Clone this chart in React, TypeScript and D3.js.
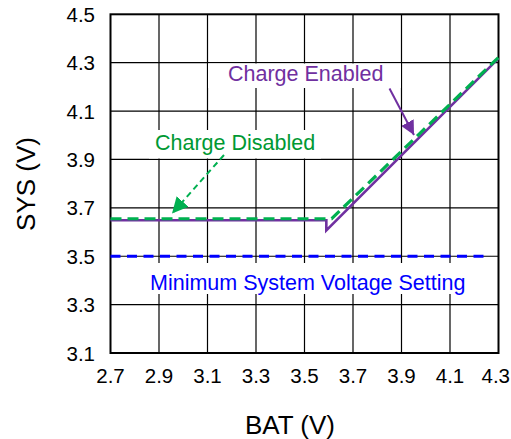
import React from 'react';
import * as d3 from 'd3';

// BAT (V) vs SYS (V)
const xTicks = [2.7, 2.9, 3.1, 3.3, 3.5, 3.7, 3.9, 4.1, 4.3];
const yTicks = [3.1, 3.3, 3.5, 3.7, 3.9, 4.1, 4.3, 4.5];

const chargeEnabledBat = [2.7, 3.59, 3.59, 4.3];
const chargeEnabledSys = [3.649, 3.649, 3.607, 4.318];

const chargeDisabledBat = [2.7, 3.612, 4.3];
const chargeDisabledSys = [3.655, 3.655, 4.322];

const minSysBat = [2.7, 4.265];
const minSysSys = [3.5, 3.5];

const W = 511, H = 439;
const margin = { top: 14.3, right: 12.5, bottom: 86, left: 110.5 };

const font = "Arial, 'Liberation Sans', sans-serif";
const purple = '#7030A0';
const green = '#00B050';
const blue = '#0000FF';

export default function App() {
  const x = d3.scaleLinear().domain([2.7, 4.3]).range([margin.left, W - margin.right]);
  const y = d3.scaleLinear().domain([3.1, 4.5]).range([H - margin.bottom, margin.top]);

  const line = d3.line<[number, number]>().x(d => x(d[0])).y(d => y(d[1]));
  const pts = (xs: number[], ys: number[]) => xs.map((v, i) => [v, ys[i]] as [number, number]);

  const x0 = x(2.7), x1 = x(4.3), y0 = y(3.1), y1 = y(4.5);

  return (
    <svg width={W} height={H} style={{ position: 'absolute', left: 0, top: 0 }}>
      <defs>
        <marker id="arrP" viewBox="0 0 10 10" refX="10" refY="5" markerWidth="7" markerHeight="7" orient="auto" markerUnits="strokeWidth">
          <path d="M0,0 L10,5 L0,10 Z" fill={purple} />
        </marker>
        <marker id="arrG" viewBox="0 0 10 10" refX="10" refY="5" markerWidth="8" markerHeight="8" orient="auto" markerUnits="strokeWidth">
          <path d="M0,0 L10,5 L0,10 Z" fill={green} />
        </marker>
      </defs>
      <rect width={W} height={H} fill="#fff" />

      {/* grid */}
      {xTicks.slice(1, -1).map(t => (
        <line key={'gx' + t} x1={x(t)} x2={x(t)} y1={y1} y2={y0} stroke="#000" strokeWidth={1.2} />
      ))}
      {yTicks.slice(1, -1).map(t => (
        <line key={'gy' + t} x1={x0} x2={x1} y1={y(t)} y2={y(t)} stroke="#000" strokeWidth={1.2} />
      ))}

      {/* label backgrounds */}
      <rect x={208} y={63.5} width={193} height={24.5} fill="#fff" />
      <rect x={149} y={130} width={172} height={28.5} fill="#fff" />
      <rect x={145} y={263} width={325} height={31} fill="#fff" />

      <rect x={x0} y={y1} width={x1 - x0} height={y0 - y1} fill="none" stroke="#000" strokeWidth={2} />

      {/* series */}
      <path d={line(pts(minSysBat, minSysSys)) || ''} fill="none" stroke={blue} strokeWidth={3} strokeDasharray="10,6.5" />
      <path d={line(pts(chargeEnabledBat, chargeEnabledSys)) || ''} fill="none" stroke={purple} strokeWidth={2.6} />
      <path d={line(pts(chargeDisabledBat, chargeDisabledSys)) || ''} fill="none" stroke={green} strokeWidth={3.2} strokeDasharray="11,6" />

      {/* annotations */}
      <text x={228} y={80.5} fontFamily={font} fontSize={21.5} fill={purple}>Charge Enabled</text>
      <line x1={389.5} y1={88.5} x2={414} y2={135} stroke={purple} strokeWidth={2} markerEnd="url(#arrP)" />

      <text x={155} y={149.5} fontFamily={font} fontSize={21.5} fill="#009933">Charge Disabled</text>
      <line x1={224} y1={155} x2={172} y2={213.5} stroke={green} strokeWidth={2} strokeDasharray="6,4" markerEnd="url(#arrG)" />

      <text x={150} y={289.5} fontFamily={font} fontSize={21.5} fill={blue}>Minimum System Voltage Setting</text>

      {/* axes labels */}
      {xTicks.map((t, i) => {
        const last = i === xTicks.length - 1;
        return (
          <text key={'tx' + t} x={last ? W - 1 : x(t)} y={382.5} textAnchor={last ? 'end' : 'middle'}
            fontFamily={font} fontSize={20.5} fill="#000">{t.toFixed(1)}</text>
        );
      })}
      {yTicks.map(t => (
        <text key={'ty' + t} x={95} y={y(t) + 7.5} textAnchor="end" fontFamily={font} fontSize={20.5} fill="#000">{t.toFixed(1)}</text>
      ))}
      <text x={290} y={433.5} textAnchor="middle" fontFamily={font} fontSize={26} fill="#000">BAT (V)</text>
      <text transform={`translate(35,184) rotate(-90)`} textAnchor="middle" fontFamily={font} fontSize={26} fill="#000">SYS (V)</text>
    </svg>
  );
}
